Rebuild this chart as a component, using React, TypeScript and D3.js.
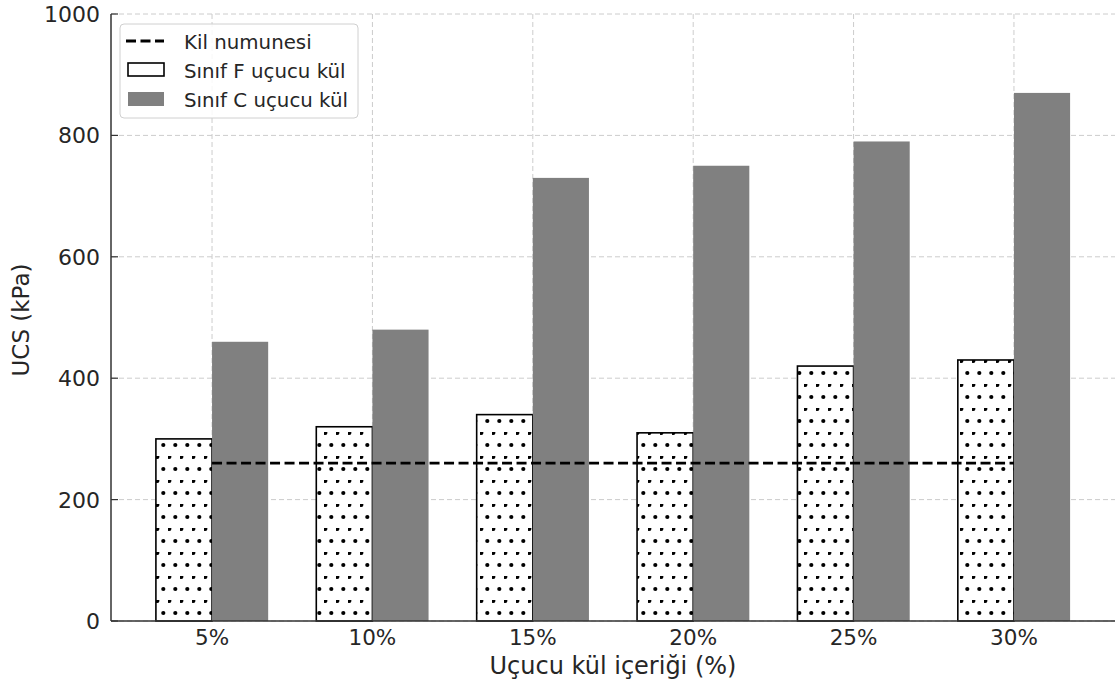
import React from "react";
import * as d3 from "d3";

const categories = ["5%", "10%", "15%", "20%", "25%", "30%"];
const classF = [300, 320, 340, 310, 420, 430];
const classC = [460, 480, 730, 750, 790, 870];
const clayValue = 260;
const yTicks = [0, 200, 400, 600, 800, 1000];
const seriesNames = ["Kil numunesi", "Sınıf F uçucu kül", "Sınıf C uçucu kül"];

const W = 1115;
const H = 686;
const FONT = "'DejaVu Sans', sans-serif";
const TEXT = "#262626";

export default function App() {
  const x = d3.scaleLinear().domain([-0.63, categories.length - 1 + 0.63]).range([111, 1115]);
  const y = d3.scaleLinear().domain([0, 1000]).range([621, 14]);
  const bw = 0.35;

  return (
    <svg width={W} height={H} style={{ position: "absolute", left: 0, top: 0, background: "#fff" }}>
      <defs>
        <pattern id="dots" patternUnits="userSpaceOnUse" width={12} height={24}>
          <rect width={12} height={24} fill="white" />
          <circle cx={7.3} cy={13} r={2.1} fill="black" />
          <circle cx={1.3} cy={1} r={2.1} fill="black" />
        </pattern>
        <pattern id="dotsLeg" patternUnits="userSpaceOnUse" width={12} height={24} x={0} y={0}>
          <rect width={12} height={24} fill="white" />
          <circle cx={8} cy={9} r={2} fill="black" />
        </pattern>
      </defs>
      {/* grid */}
      {yTicks.map((t) => (
        <line key={"gy" + t} x1={111} x2={1115} y1={y(t)} y2={y(t)} stroke="#cccccc" strokeWidth={1} strokeDasharray="5,3" />
      ))}
      {categories.map((c, i) => (
        <line key={"gx" + c} x1={x(i)} x2={x(i)} y1={14} y2={621} stroke="#cccccc" strokeWidth={1} strokeDasharray="5,3" />
      ))}
      {/* bars */}
      {classF.map((v, i) => (
        <rect key={"f" + i} x={x(i - bw)} y={y(v)} width={x(i) - x(i - bw)} height={y(0) - y(v)} fill="url(#dots)" stroke="#000" strokeWidth={1.6} />
      ))}
      {classC.map((v, i) => (
        <rect key={"c" + i} x={x(i)} y={y(v)} width={x(i + bw) - x(i)} height={y(0) - y(v)} fill="#808080" />
      ))}
      {/* clay line */}
      <line x1={x(0)} x2={x(categories.length - 1)} y1={y(clayValue)} y2={y(clayValue)} stroke="#000" strokeWidth={2.8} strokeDasharray="10,4.5" />
      {/* axes */}
      <line x1={111} x2={111} y1={14} y2={621} stroke="#333" strokeWidth={1.5} />
      <line x1={111} x2={1115} y1={621} y2={621} stroke="#333" strokeWidth={1.5} />
      {yTicks.map((t) => (
        <g key={"ty" + t}>
          <line x1={111} x2={118} y1={y(t)} y2={y(t)} stroke="#333" strokeWidth={1.2} />
          <text x={100} y={y(t)} dy="0.36em" textAnchor="end" fontFamily={FONT} fontSize={22} fill={TEXT}>{t}</text>
        </g>
      ))}
      {categories.map((c, i) => (
        <text key={"tx" + c} x={x(i)} y={645} textAnchor="middle" fontFamily={FONT} fontSize={21.5} fill={TEXT}>{c}</text>
      ))}
      <text x={613} y={674} textAnchor="middle" fontFamily={FONT} fontSize={24} fill={TEXT}>Uçucu kül içeriği (%)</text>
      <text transform={`translate(29,320) rotate(-90)`} textAnchor="middle" fontFamily={FONT} fontSize={23} fill={TEXT}>UCS (kPa)</text>
      {/* legend */}
      <g>
        <rect x={120} y={24} width={238} height={94} rx={4} fill="white" fillOpacity={0.85} stroke="#d0d0d0" strokeWidth={1} />
        <line x1={126} x2={164} y1={41} y2={41} stroke="#000" strokeWidth={2.8} strokeDasharray="10,4.5" />
        <rect x={128} y={63} width={36} height={13} fill="url(#dotsLeg)" stroke="#000" strokeWidth={1.6} />
        <rect x={128} y={92} width={36} height={14} fill="#808080" />
        {seriesNames.map((n, i) => (
          <text key={n} x={184} y={42 + i * 29} dy="0.36em" fontFamily={FONT} fontSize={19.8} fill={TEXT}>{n}</text>
        ))}
      </g>
    </svg>
  );
}
